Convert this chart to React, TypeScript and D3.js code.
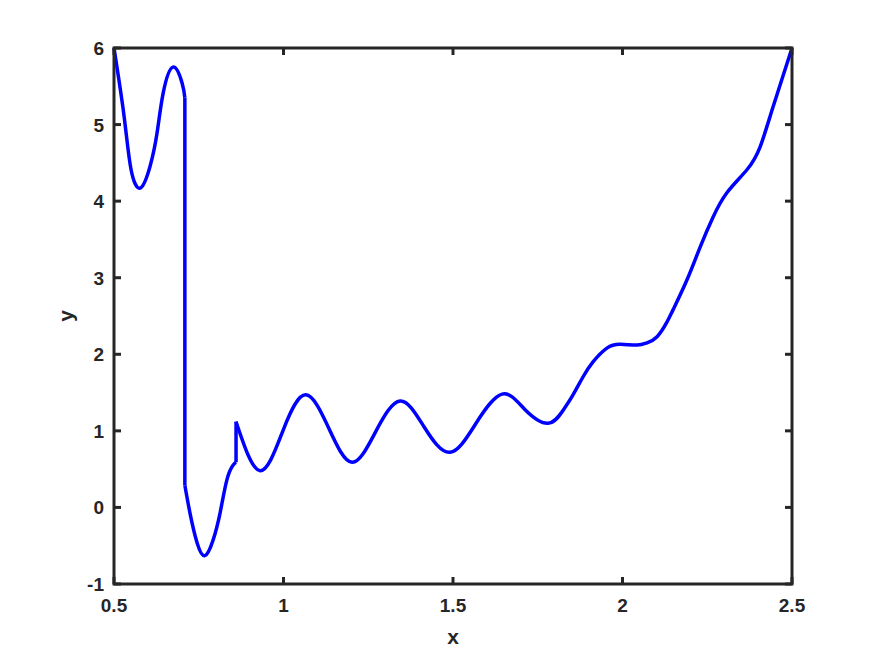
import * as d3 from "d3";
import {useRef, useEffect} from "react";

// curve pieces (the curve jumps between them)
const seg1X = [0.5, 0.53, 0.55, 0.577, 0.606, 0.627, 0.645, 0.674, 0.701, 0.709];
const seg1Y = [6.0, 5.1, 4.42, 4.17, 4.45, 4.89, 5.41, 5.75, 5.54, 5.35];
const seg2X = [0.709, 0.724, 0.745, 0.768, 0.792, 0.813, 0.833, 0.851, 0.86];
const seg2Y = [0.29, -0.07, -0.46, -0.63, -0.43, -0.07, 0.36, 0.55, 0.59];
const seg3X = [0.86, 0.931, 1.0, 1.066, 1.134, 1.202, 1.272, 1.344, 1.415, 1.491, 1.568, 1.645, 1.712, 1.78,
    1.825, 1.854, 1.883, 1.913, 1.954, 1.993, 2.043, 2.072, 2.102, 2.131, 2.149, 2.19, 2.229, 2.267, 2.308,
    2.367, 2.406, 2.444, 2.5];
const seg3Y = [1.12, 0.48, 1.02, 1.47, 1.03, 0.59, 0.99, 1.39, 1.05, 0.72, 1.1, 1.48, 1.28, 1.1,
    1.27, 1.47, 1.7, 1.9, 2.08, 2.13, 2.12, 2.15, 2.23, 2.42, 2.58, 2.97, 3.4, 3.79, 4.11,
    4.41, 4.71, 5.23, 6.0];

const xTicks = [0.5, 1, 1.5, 2, 2.5];
const yTicks = [-1, 0, 1, 2, 3, 4, 5, 6];

function App() {
    const width = 875, height = 656;
    const margin = {left: 114, right: 83, top: 48, bottom: 72};
    const ref = useRef(null);

    useEffect(() => {
        const svg = d3.select(ref.current);
        svg.selectAll("*").remove();

        const x = d3.scaleLinear().domain([0.5, 2.5]).range([margin.left, width - margin.right]);
        const y = d3.scaleLinear().domain([-1, 6]).range([height - margin.bottom, margin.top]);
        const axisColor = "#262626";
        const font = "'Liberation Sans', Arial, sans-serif";

        const line = d3.line().x(d => x(d[0])).y(d => y(d[1])).curve(d3.curveNatural);
        const segs = [[seg1X, seg1Y], [seg2X, seg2Y], [seg3X, seg3Y]].map(([xs, ys]) => xs.map((v, i) => [v, ys[i]]));

        const plot = svg.append("g");
        segs.forEach(s => {
            plot.append("path")
            .attr("d", line(s))
            .attr("fill", "none")
            .attr("stroke", "#0000ff")
            .attr("stroke-width", 3.5)
            .attr("stroke-linejoin", "round");
        });
        // vertical jumps
        for (let i = 0; i < segs.length - 1; i++) {
            const a = segs[i][segs[i].length - 1], b = segs[i + 1][0];
            plot.append("line")
            .attr("x1", x(a[0])).attr("y1", y(a[1]))
            .attr("x2", x(b[0])).attr("y2", y(b[1]))
            .attr("stroke", "#0000ff")
            .attr("stroke-width", 3.5);
        }

        // box
        const x0 = x(0.5), x1 = x(2.5), y0 = y(-1), y1 = y(6);
        svg.append("rect")
        .attr("x", x0).attr("y", y1)
        .attr("width", x1 - x0).attr("height", y0 - y1)
        .attr("fill", "none")
        .attr("stroke", axisColor)
        .attr("stroke-width", 3);

        const tl = 7;
        const label = (sel, size) => sel
            .style("font-family", font)
            .style("font-size", size + "px")
            .style("font-weight", "bold")
            .attr("fill", axisColor);

        xTicks.forEach(t => {
            svg.append("line").attr("x1", x(t)).attr("x2", x(t)).attr("y1", y0).attr("y2", y0 - tl)
            .attr("stroke", axisColor).attr("stroke-width", 3);
            svg.append("line").attr("x1", x(t)).attr("x2", x(t)).attr("y1", y1).attr("y2", y1 + tl)
            .attr("stroke", axisColor).attr("stroke-width", 3);
            label(svg.append("text"), 19)
            .attr("x", x(t)).attr("y", y0 + 28)
            .attr("text-anchor", "middle")
            .text(t);
        });
        yTicks.forEach(t => {
            svg.append("line").attr("x1", x0).attr("x2", x0 + tl).attr("y1", y(t)).attr("y2", y(t))
            .attr("stroke", axisColor).attr("stroke-width", 3);
            svg.append("line").attr("x1", x1).attr("x2", x1 - tl).attr("y1", y(t)).attr("y2", y(t))
            .attr("stroke", axisColor).attr("stroke-width", 3);
            label(svg.append("text"), 19)
            .attr("x", x0 - 10).attr("y", y(t) + 7)
            .attr("text-anchor", "end")
            .text(t);
        });

        // axis labels
        label(svg.append("text"), 21)
        .attr("x", (x0 + x1) / 2).attr("y", y0 + 60)
        .attr("text-anchor", "middle")
        .text("x");
        label(svg.append("text"), 21)
        .attr("transform", `translate(${x0 - 41},${(y0 + y1) / 2}) rotate(-90)`)
        .attr("text-anchor", "middle")
        .text("y");
    });

    return (
        <svg ref={ref} width={width} height={height} style={{display: "block", position: "absolute", left: 0, top: 0, background: "#fff"}}></svg>
    );
}

export default App;
